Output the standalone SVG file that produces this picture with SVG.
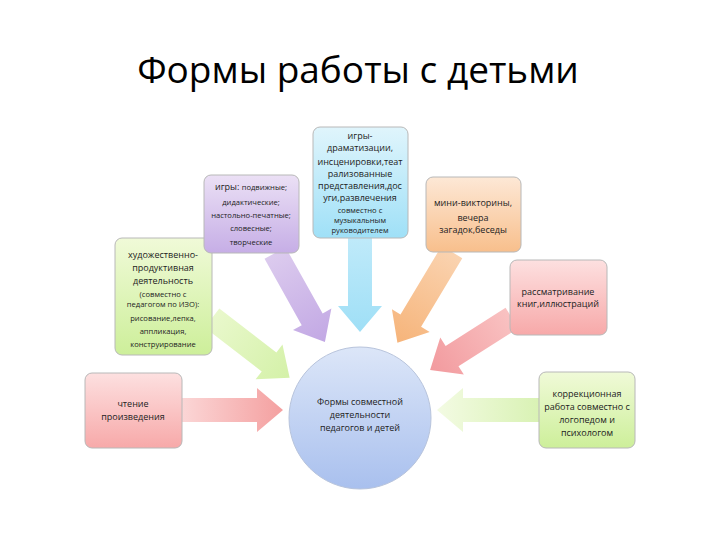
<svg xmlns="http://www.w3.org/2000/svg" width="720" height="540" viewBox="0 0 720 540">
<defs>
<linearGradient id="gPink" x1="0" y1="0" x2="0" y2="1"><stop offset="0" stop-color="#fde0e0"/><stop offset="1" stop-color="#f7a9a9"/></linearGradient>
<linearGradient id="gGreen" x1="0" y1="0" x2="0" y2="1"><stop offset="0" stop-color="#f0fad8"/><stop offset="1" stop-color="#cdef9a"/></linearGradient>
<linearGradient id="gPurple" x1="0" y1="0" x2="0" y2="1"><stop offset="0" stop-color="#ebe0f5"/><stop offset="1" stop-color="#c6aee6"/></linearGradient>
<linearGradient id="gBlue" x1="0" y1="0" x2="0" y2="1"><stop offset="0" stop-color="#e0f5fc"/><stop offset="1" stop-color="#9fe0f7"/></linearGradient>
<linearGradient id="gOrange" x1="0" y1="0" x2="0" y2="1"><stop offset="0" stop-color="#fde8d6"/><stop offset="1" stop-color="#f8bf8c"/></linearGradient>
<linearGradient id="gCircle" x1="0" y1="0" x2="0" y2="1"><stop offset="0" stop-color="#dce6f8"/><stop offset="1" stop-color="#a9c0ee"/></linearGradient>
<linearGradient id="aPink" x1="0" y1="0" x2="1" y2="0"><stop offset="0" stop-color="#fbd6d6"/><stop offset="1" stop-color="#f4a0a0"/></linearGradient>
<linearGradient id="aGreen" x1="0" y1="0" x2="1" y2="0"><stop offset="0" stop-color="#e9f8cc"/><stop offset="1" stop-color="#d4f1a8"/></linearGradient>
<linearGradient id="aPurple" x1="0" y1="0" x2="1" y2="0"><stop offset="0" stop-color="#dccbee"/><stop offset="1" stop-color="#c2a8e4"/></linearGradient>
<linearGradient id="aBlue" x1="0" y1="0" x2="1" y2="0"><stop offset="0" stop-color="#bfeafa"/><stop offset="1" stop-color="#9fdff6"/></linearGradient>
<linearGradient id="aOrange" x1="0" y1="0" x2="1" y2="0"><stop offset="0" stop-color="#fad3b0"/><stop offset="1" stop-color="#f6b47a"/></linearGradient>
<linearGradient id="aRed" x1="0" y1="0" x2="1" y2="0"><stop offset="0" stop-color="#f9c2c2"/><stop offset="1" stop-color="#f29a9e"/></linearGradient>
<linearGradient id="aGreen2" x1="0" y1="0" x2="1" y2="0"><stop offset="0" stop-color="#d9f2b4"/><stop offset="1" stop-color="#f3fbe3"/></linearGradient>
</defs>
<style>
.box{stroke:#b8b8b8;stroke-width:1}
text{font-family:"Open Sans","Liberation Sans",sans-serif;fill:#222;text-anchor:middle}
.t{font-size:9px}
.s{font-size:7.6px}
.title{font-family:"Open Sans","Liberation Sans",sans-serif;font-size:37px;fill:#000}
</style>
<text class="title" x="358" y="83">Формы работы с детьми</text>
<g id="connectors">
<polygon fill="url(#aPink)" transform="translate(182,410)" points="0,-12 75,-12 75,-22 101,0 75,22 75,12 0,12"/>
<polygon fill="url(#aGreen)" transform="translate(212,318) rotate(37.6)" points="0,-12 72,-12 72,-22 98,0 72,22 72,12 0,12"/>
<polygon fill="url(#aPurple)" transform="translate(275,253) rotate(60.7)" points="0,-12 76,-12 76,-22 102,0 76,22 76,12 0,12"/>
<polygon fill="url(#aBlue)" transform="translate(360,238) rotate(90)" points="0,-12 68,-12 68,-22 94,0 68,22 68,12 0,12"/>
<polygon fill="url(#aOrange)" transform="translate(452,252) rotate(121)" points="0,-12 80,-12 80,-22 106,0 80,22 80,12 0,12"/>
<polygon fill="url(#aRed)" transform="translate(512,318) rotate(147.6)" points="0,-12 71,-12 71,-22 97,0 71,22 71,12 0,12"/>
<polygon fill="url(#aGreen2)" transform="translate(539,410) rotate(180)" points="0,-12 76,-12 76,-22 102,0 76,22 76,12 0,12"/>
</g>
<g id="center"><circle cx="360" cy="418" r="71" fill="url(#gCircle)" stroke="#b8c4dc"/>
<text class="t"><tspan x="360" y="405">Формы совместной</tspan><tspan x="360" y="418">деятельности</tspan><tspan x="360" y="431">педагогов и детей</tspan></text></g>
<g id="n-reading"><rect class="box" x="85" y="373" width="97" height="75" rx="7" fill="url(#gPink)"/>
<text class="t"><tspan x="133" y="407">чтение</tspan><tspan x="133" y="420">произведения</tspan></text></g>
<g id="n-art"><rect class="box" x="115" y="238" width="97" height="117" rx="7" fill="url(#gGreen)"/>
<text class="t"><tspan x="163" y="258">художественно-</tspan><tspan x="163" y="271">продуктивная</tspan><tspan x="163" y="284">деятельность</tspan></text>
<text class="s"><tspan x="163" y="297">(совместно с</tspan><tspan x="163" y="307">педагогом по ИЗО):</tspan><tspan x="163" y="321">рисование,лепка,</tspan><tspan x="163" y="334">аппликация,</tspan><tspan x="163" y="347">конструирование</tspan></text></g>
<g id="n-games"><rect class="box" x="204" y="175" width="95" height="78" rx="7" fill="url(#gPurple)"/>
<text class="s"><tspan x="251" y="190"><tspan style="font-size:9px">игры: </tspan>подвижные;</tspan><tspan x="251" y="205">дидактические;</tspan><tspan x="251" y="218">настольно-печатные;</tspan><tspan x="251" y="231">словесные;</tspan><tspan x="251" y="245">творческие</tspan></text></g>
<g id="n-drama"><rect class="box" x="313" y="127" width="95" height="111" rx="7" fill="url(#gBlue)"/>
<text class="t"><tspan x="360" y="139">игры-</tspan><tspan x="360" y="151">драматизации,</tspan><tspan x="360" y="165">инсценировки,теат</tspan><tspan x="360" y="177">рализованные</tspan><tspan x="360" y="189">представления,дос</tspan><tspan x="360" y="201">уги,развлечения</tspan></text>
<text class="s"><tspan x="360" y="213">совместно с</tspan><tspan x="360" y="223">музыкальным</tspan><tspan x="360" y="233">руководителем</tspan></text></g>
<g id="n-quiz"><rect class="box" x="426" y="177" width="95" height="75" rx="7" fill="url(#gOrange)"/>
<text class="t"><tspan x="473" y="206">мини-викторины,</tspan><tspan x="473" y="221">вечера</tspan><tspan x="473" y="233">загадок,беседы</tspan></text></g>
<g id="n-books"><rect class="box" x="510" y="260" width="97" height="75" rx="7" fill="url(#gPink)"/>
<text class="t"><tspan x="558" y="295">рассматривание</tspan><tspan x="558" y="307">книг,иллюстраций</tspan></text></g>
<g id="n-corr"><rect class="box" x="539" y="372" width="96" height="76" rx="7" fill="url(#gGreen)"/>
<text class="t"><tspan x="587" y="397">коррекционная</tspan><tspan x="587" y="410">работа совместно с</tspan><tspan x="587" y="423">логопедом и</tspan><tspan x="587" y="436">психологом</tspan></text></g>
</svg>
